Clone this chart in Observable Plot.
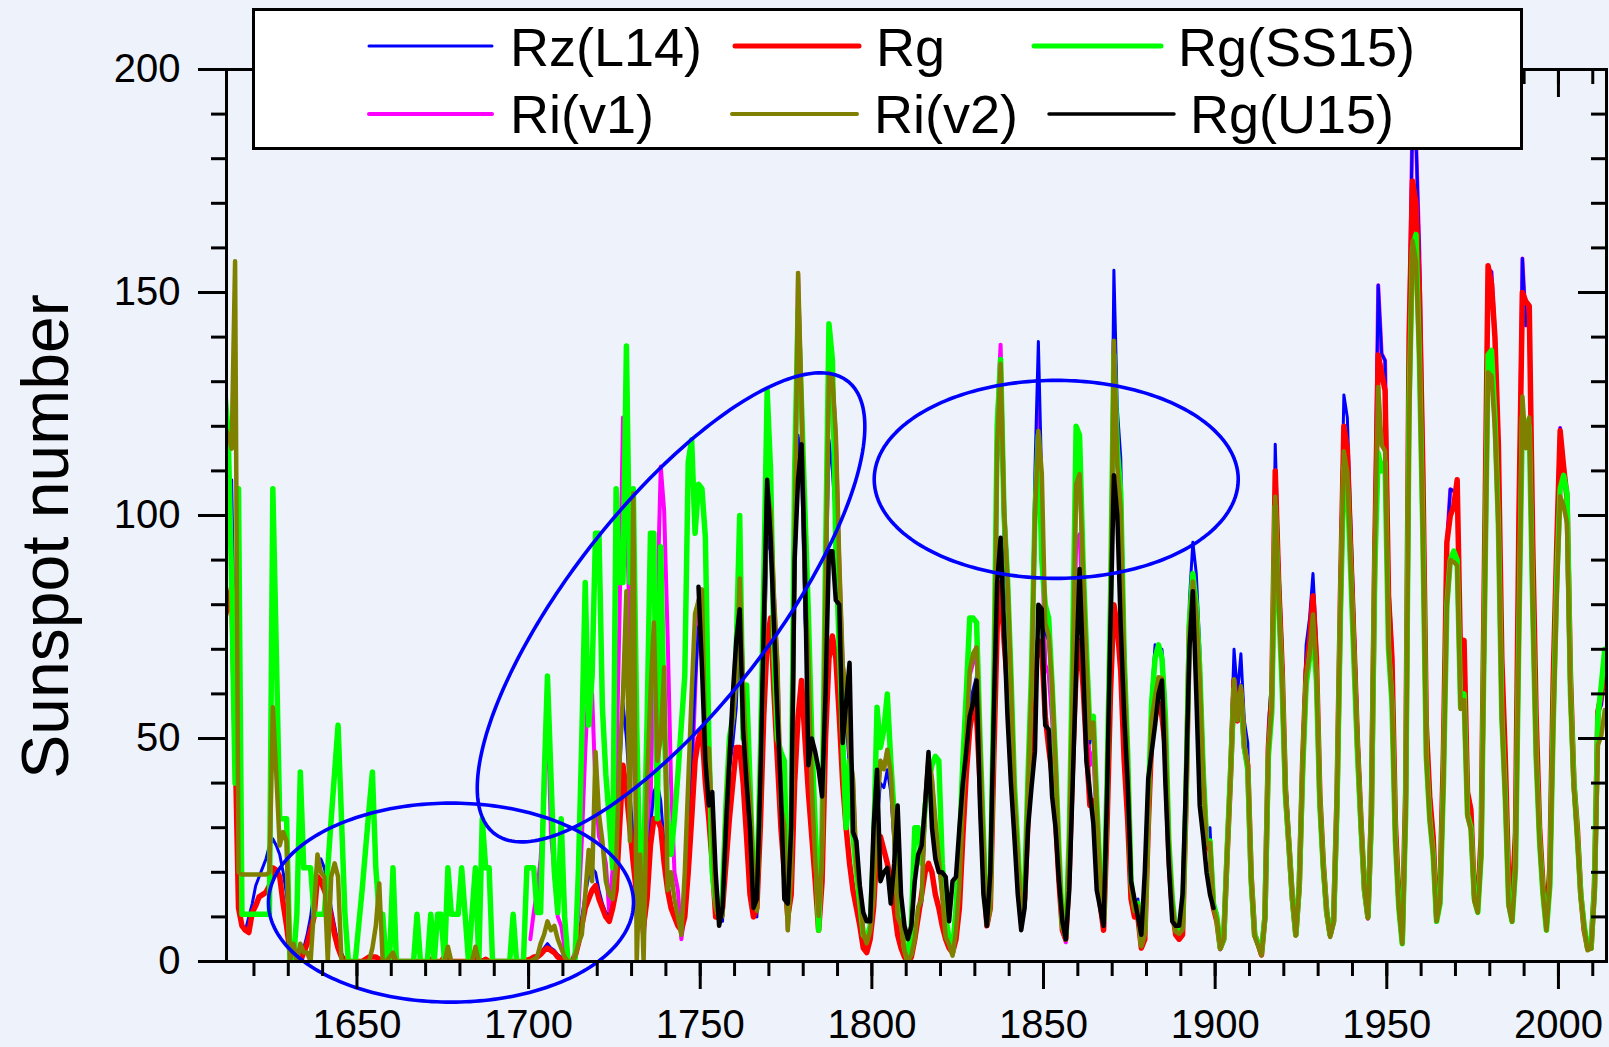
<!DOCTYPE html>
<html><head><meta charset="utf-8">
<script src="https://cdn.jsdelivr.net/npm/d3@7"></script>
<script src="https://cdn.jsdelivr.net/npm/@observablehq/plot@0.6"></script>
<style>
html,body{margin:0;padding:0;background:#eef3fb;}
#chart{position:relative;width:1609px;height:1047px;overflow:hidden;}
</style></head><body><div id="chart"></div>
<script>
// ---------------- data (yearly values) ----------------
const seriesNames = ["Rz(L14)", "Rg", "Rg(SS15)", "Ri(v1)", "Ri(v2)", "Rg(U15)"];

const rzL14Start = 1610;
const rzL14 = [
 100,100,106,108,60,15,8,7,10,13,
 17,19,21,23,26,27.5,26,24,20,15,
 5,1,0,1,3,6,10,16,22,23,
 21,17,12,8,4,2,0,0,0,0,
 0,0,0,0,0,0,0,0,0,0,
 0,0,0,0,0,0,0,0,0,0,
 0,0,0,0,0,0,0,0,0,0,
 0,0,0,0,0,0,0,0,0,0,
 0,0,0,0,0,0,0,0,0,0,
 0.5,1,1.5,2,3,4,3,2.5,1.5,1,
 0,0,0,1,5,10,15,19,21,20,
 16,13,11,10,13,20,42,58,50,38,
 28,18,11,8,16,30,38,40,36,26,
 18,13,10,8,8,14,30,45,62,75,
 76,44,44,28,11,9,9,30,43,49,
 57,78,56,41,33,19,10,34,64,95,
 92,74,60,32,28,7,18,84,118,112,
 77,62,35,21,9,22,75,117,110,98,
 82,60,54,43,37,19,15,6,4,6,
 13,31,40,39,43,38,26,9,7,2,
 0,1,5,11,13,32,42,37,27,22,
 14,6,4,2,8,15,33,45,58,61,
 64,43,25,8,12,52,110,126,94,78,
 59,33,22,10,14,40,68,110,139,107,
 74,72,60,43,23,7,5,25,61,104,
 106,86,66,49,52,34,18,8,42,82,
 155,124,113,74,50,19,13,14,4,7,
 36,60,71,70,70,58,28,15,8,7,
 8,40,81,94,87,71,46,29,30,13,
 11,3,6,27,47,70,60,69,54,49,
 21,6,4,2,11,53,64,116,90,71,
 42,29,16,6,19,49,71,77,87,72,
 40,24,12,6,10,40,89,127,122,99,
 76,53,34,18,11,37,97,151.6,136.3,134.7,
 83.9,69.4,31.5,13.9,4.4,38.0,141.7,190.2,184.8,159.0,
 112.3,53.9,37.6,27.9,10.2,15.1,47.0,93.8,105.9,105.5,
 104.5,66.6,68.9,38.0,34.5,15.5,12.6,27.5,92.5,155.4,
 154.6,140.4,115.9,66.6,45.9,17.9,13.4,29.4,100.2,157.6,
 142.6,145.7,94.3,54.6,29.9,17.5,8.6,21.5,64.3,93.3,
 119.6,111.0,104.0,63.7,40.4,29.8,15.2,7.5,2.9,3.1,
 16.5,55.7,57.6,64.7
];

const rgStart = 1610;
const rg = [
 77,77,80,84,50,12,8,7,6.5,11,
 12.5,14.5,15,15.5,17,21,20.5,19,13,8,
 2,0,0,0,2,4,7,10,19,18,
 16,13.8,10,6,3,1,0.5,0,0,0,
 0,0,0.5,1,1,1,0.5,0,0,0,
 0.5,0,0,0,0,0,0,0,0,0,
 0,0.5,0,0,0,1,0.5,0,0,0,
 0,0,0,0,1,0.5,0,0.5,0,0,
 0,0,0,0,0,0,0,0,0,0.3,
 0.5,1,1,1.6,2.5,3,2.5,2,1,0.5,
 0,0,0,1,4,8,12,14,16,17,
 14,12,10,9,12,16,30,44,38,30,
 22,15,10,8,14,26,32,32,30,22,
 16,12,10,8,7,10,20,32,45,50,
 52,40,32,22,10,10,12,22,32,40,
 48,48,40,28,15,10,12,30,55,72,
 77,60,45,30,20,10,15,40,55,63,
 50,38,28,18,7,18,50,68,73,68,
 55,40,30,22,16,12,8,3,2,5,
 12,26,28,25,22,18,12,6,3,1,
 0,1,5,10,15,20,22,20,15,12,
 8,5,3,2,5,12,28,42,52,57,
 55,40,22,8,12,45,75,85,72,62,
 48,32,20,9,14,32,50,65,72,70,
 55,48,42,32,18,7,5,20,45,65,
 72,62,48,35,36,25,13,7,30,60,
 80,75,65,45,32,14,10,10,3,5,
 30,50,57,58,55,48,24,12,6,5,
 6,35,75,85,78,62,40,26,25,12,
 9,3,5,24,42,63,54,61,48,44,
 19,6,4,1.5,10,48,60,110,85,66,
 38,26,14,6,17,45,65,72,82,68,
 37,22,11,6,9,37,82,120,115,92,
 70,48,31,16,10,33,92,136,132,128,
 82,68,31,14,5,38,140,175,170,150,
 110,53,37,28,10,15,47,94,100,102,
 108,67,72,38,34,15,13,28,92,156,
 152,140,116,68,46,18,13,29,100,150,
 148,147,94,55,30,17,9,21,64,93,
 119,111,104,64,40,30,15,7,3,3,
 17,56,60,65
];

const rgSS15Start = 1610;
const rgSS15 = [
 128,128,118,85,40,106,10.6,10.6,10.6,10.6,
 10.6,10.6,10.6,10.6,10.6,106,70,32,32,32,
 0,0,10.6,42.5,21,21,21,10.6,10.6,10.6,
 10.6,21,32,42.5,53,32,10.6,0,0,0,
 8,16,25,34,42.5,21,10.6,10.6,0,0,
 21,0,0,0,0,0,0,10.6,0,0,
 0,10.6,0,10.6,10.6,0,21,10.6,10.6,10.6,
 21,10.6,0,10.6,21,0,32,21,21,0,
 0,0,0,0,0,10.6,0,0,0,21,
 21,21,11,11,40,64,42,20,11,32,
 10,0,0,0,20,50,85,53,64,96,
 96,57,42,32,21,106,85,85,138,85,
 106,53,16,21,53,96,96,32,93,53,
 32,24,32,42,53,64,112,117,96,107,
 106,95,50,20,13,10,15,35,50,55,
 70,100,50,62,40,18,16,45,85,128,
 110,68,50,47,45,10,30,110,146,125,
 101,78,50,30,7,30,90,143,135,93,
 70,50,30,45,28,20,13,6,5,8,
 25,57,48,52,60,45,33,15,10,3,
 0,8,30,30,22,35,40,44,46,45,
 22,10,5,2,12,25,45,60,77,77,
 76,50,28,9,15,60,120,135,100,86,
 65,40,26,11,16,42,65,100,118,90,
 80,77,62,45,25,8,6,28,70,120,
 118,90,70,52,55,36,19,9,40,80,
 136,115,105,68,47,18,12,13,4,7,
 35,58,68,71,68,55,27,14,7,7,
 8,37,76,87,80,66,43,27,27,13,
 10,3,5,25,43,61,55,60,48,43,
 18,6,4,2,10,46,56,102,80,62,
 37,26,14,6,17,43,62,68,74,63,
 35,21,11,6,9,35,78,111,107,87,
 66,46,30,16,10,32,88,114,110,112,
 70,58,27,12,4,33,125,160,163,135,
 96,46,32,24,9,13,40,80,90,92,
 90,57,60,33,30,14,11,24,80,136,
 137,122,98,55,37,13,9,21,75,122,
 121,120,80,46,27,15,7,17,54,85,
 106,109,105,60,40,28,15,8,3,3,
 16,55,62,70
];

const riV1Start = 1700;
const riV1 = [
 5,11,16,23,36,58,29,20,10,8,
 3,0,0,2,11,27,47,63,60,39,
 28,26,22,11,21,40,78,122,103,73,
 47,35,11,5,16,34,70,81,111,101,
 73,40,20,16,5,11,22,40,60,80.9,
 83.4,47.7,47.8,30.7,12.2,9.6,10.2,32.4,47.6,54.0,
 62.9,85.9,61.2,45.1,36.4,20.9,11.4,37.8,69.8,106.1,
 100.8,81.6,66.5,34.8,30.6,7.0,19.8,92.5,154.4,125.9,
 84.8,68.1,38.5,22.8,10.2,24.1,82.9,132.0,130.9,118.1,
 89.9,66.6,60.0,46.9,41.0,21.3,16.0,6.4,4.1,6.8,
 14.5,34.0,45.0,43.1,47.5,42.2,28.1,10.1,8.1,2.5,
 0.0,1.4,5.0,12.2,13.9,35.4,45.8,41.1,30.1,23.9,
 15.6,6.6,4.0,1.8,8.5,16.6,36.3,49.6,64.2,67.0,
 70.9,47.8,27.5,8.5,13.2,56.9,121.5,138.3,103.2,85.7,
 64.6,36.7,24.2,10.7,15.0,40.1,61.5,98.5,124.7,96.3,
 66.6,64.5,54.1,39.0,20.6,6.7,4.3,22.7,54.8,93.8,
 95.8,77.2,59.1,44.0,47.0,30.5,16.3,7.3,37.6,74.0,
 139.0,111.2,101.6,66.2,44.7,17.0,11.3,12.4,3.4,6.0,
 32.3,54.3,59.7,63.7,63.5,52.2,25.4,13.1,6.8,6.3,
 7.1,35.6,73.0,85.1,78.0,64.0,41.8,26.2,26.7,12.1,
 9.5,2.7,5.0,24.4,42.0,63.5,53.8,62.0,48.5,43.9,
 18.6,5.7,3.6,1.4,9.6,47.4,57.1,103.9,80.6,63.6,
 37.6,26.1,14.2,5.8,16.7,44.3,63.9,69.0,77.8,64.9,
 35.7,21.2,11.1,5.7,8.7,36.1,79.7,114.4,109.6,88.8,
 67.8,47.5,30.6,16.3,9.6,33.2,92.6,151.6,136.3,134.7,
 83.9,69.4,31.5,13.9,4.4,38.0,141.7,190.2,184.8,159.0,
 112.3,53.9,37.6,27.9,10.2,15.1,47.0,93.8,105.9,105.5,
 104.5,66.6,68.9,38.0,34.5,15.5,12.6,27.5,92.5,155.4,
 154.6,140.4,115.9,66.6,45.9,17.9,13.4,29.4,100.2,157.6,
 142.6,145.7,94.3,54.6,29.9,17.5,8.6,21.5,64.3,93.3,
 119.6,111.0,104.0,63.7,40.4,29.8,15.2,7.5,2.9,3.1,
 16.5,55.7,57.6,64.7
];

const riV2Start = 1610;
const riV2 = [
 120,120,118,115,157,20,19.5,19.5,19.5,19.5,
 19.5,19.5,19.5,19.5,20,57,42,26,29,27,
 0,4,0,4,2,2,0,12,24,20,
 19,0,19,22,19,0,0,0,0,0,
 0,0,0,0,3,8,17.5,0,0,1,
 2,0,0,0,0,0,0,0,0,0,
 0,0,0,0,0,0,3.3,0,0,0,
 0,0,0,0,3.3,0,0,0,0,0,
 0,0,0,0,0,0,0,0,0,0,
 0,0.5,1,4,6,9,7,8,5,3,
 1,0,0,1,4,6,15,25,18,47,
 33,27,18,15,14,22,45,60,83,27,
 105,0,24,0,40,60,76,45,50,66,
 16,20,14,10,6,20,40,60,78,80.9,
 83.4,47.7,47.8,30.7,12.2,9.6,10.2,32.4,47.6,54.0,
 62.9,85.9,61.2,45.1,36.4,20.9,11.4,37.8,69.8,106.1,
 100.8,81.6,66.5,34.8,30.6,7.0,19.8,92.5,154.4,125.9,
 84.8,68.1,38.5,22.8,10.2,24.1,82.9,132.0,130.9,118.1,
 89.9,66.6,60.0,46.9,41.0,21.3,16.0,6.4,4.1,6.8,
 14.5,34.0,45.0,43.1,47.5,42.2,28.1,10.1,8.1,2.5,
 0.0,1.4,5.0,12.2,13.9,35.4,45.8,41.0,31.7,23.1,
 14.5,5.5,3.8,1.3,6.8,16.9,35.9,49.8,65.1,69.1,
 70.4,48.5,26.6,8.0,11.7,51.5,115.6,134.0,101.2,85.8,
 63.3,38.0,24.2,10.9,15.1,39.5,61.6,99.8,119.0,109.5,
 75.8,73.2,61.6,44.5,23.4,7.6,4.9,26.0,62.6,107.0,
 109.3,88.0,67.3,50.1,53.6,34.7,18.4,8.3,37.7,74.2,
 139.2,111.2,101.5,66.1,44.7,17.0,11.3,12.4,3.4,6.0,
 32.2,54.3,59.4,63.7,63.5,51.8,25.4,13.1,6.7,6.2,
 7.1,35.7,73.0,85.2,78.0,64.0,41.6,26.3,26.6,12.1,
 9.4,2.8,5.1,24.5,42.1,63.3,54.1,61.7,48.5,43.9,
 18.5,5.7,3.6,1.4,9.7,47.4,57.0,104.2,80.8,63.4,
 37.6,26.1,14.2,5.8,16.7,44.4,63.9,68.8,77.8,64.9,
 35.6,21.1,11.2,5.5,8.8,36.1,79.7,114.4,109.6,88.8,
 67.8,47.5,30.5,16.3,9.7,33.2,92.6,128.8,115.8,114.4,
 71.3,59.0,27.0,12.1,4.0,32.5,120.4,161.6,157.0,135.1,
 95.4,45.8,32.0,23.9,9.0,13.2,40.1,79.7,90.0,89.6,
 88.8,56.6,58.6,32.5,29.5,13.5,11.0,23.6,78.6,132.1,
 131.3,119.3,97.4,54.6,36.3,12.4,8.9,20.3,73.8,126.7,
 115.1,122.0,79.8,45.7,26.9,15.1,7.0,17.3,53.0,81.8,
 104.3,102.2,98.2,59.6,39.2,27.5,14.8,7.6,2.5,2.9,
 14.9,48.5,50.7,56.4
];

const rgU15Start = 1749;
const rgU15 = [
 84,
 66,45,35,38,20,8,12,30,45,60,
 72,79,52,40,30,12,14,40,75,108,
 95,75,55,38,14,13,30,90,108,116,
 88,44,50,47,43,37,60,92,92,81,
 80,49,58,67,29,27,17,11,9,9,
 30,43,18,20,21,13,22,35,15,8,
 5,8,18,24,26,35,47,30,23,20,
 20,19,9,18,19,30,40,47,55,58,
 63,35,15,8,20,55,85,95,75,55,
 40,28,15,7,12,30,39,47,80,79,
 53,52,37,30,18,9,5,16,40,65,
 88,67,45,38,31,16,12,8,37,75,
 109,100,75,55,40,18,14,10,6,20,
 41,47,53,60,63,40,21.5,9,8,8,
 15,40,70,83,60,35,28,20,15,12
];

const xTicksMajor = [1650, 1700, 1750, 1800, 1850, 1900, 1950, 2000];
const xTicksMinor = d3.range(1620, 2011, 10);
const yTicksMajor = [0, 50, 100, 150, 200];
const yTicksMinor = d3.range(0, 201, 10);

// ---------------- layout & styles ----------------
const W = 1609, H = 1047;
const mL = 226, mR = 3, mT = 69, mB = 86;
const innerW = W - mL - mR, innerH = H - mT - mB;
const xDomain = [1612, 2014], yDomain = [0, 200];
const FONT = "'Liberation Sans', Arial, Helvetica, sans-serif";

const styleOf = {
  "Rz(L14)": {color: "#0000ff", width: 3, legendWidth: 3},
  "Rg": {color: "#ff0000", width: 5.5, legendWidth: 5},
  "Rg(SS15)": {color: "#00ff00", width: 5.5, legendWidth: 5},
  "Ri(v1)": {color: "#ff00ff", width: 4, legendWidth: 4},
  "Ri(v2)": {color: "#808000", width: 4.5, legendWidth: 4},
  "Rg(U15)": {color: "#000000", width: 4.5, legendWidth: 3.5}
};

function rows(name, start, vals) {
  return vals.map((v, i) => ({series: name, year: start + i, value: v}));
}
const table = {
  "Rz(L14)": rows("Rz(L14)", rzL14Start, rzL14),
  "Rg": rows("Rg", rgStart, rg),
  "Rg(SS15)": rows("Rg(SS15)", rgSS15Start, rgSS15),
  "Ri(v1)": rows("Ri(v1)", riV1Start, riV1),
  "Ri(v2)": rows("Ri(v2)", riV2Start, riV2),
  "Rg(U15)": rows("Rg(U15)", rgU15Start, rgU15)
};
const drawOrder = ["Ri(v1)", "Rz(L14)", "Rg", "Rg(SS15)", "Ri(v2)", "Rg(U15)"];

// annotation ellipses (centre in data units, semi-axes in pixels, tilt in degrees)
const annotationEllipses = [
  {id: 1, cx: 1677.4, cy: 13.2, a: 182.5, b: 99.5, angle: 0},
  {id: 2, cx: 1741.5, cy: 79.4, a: 287, b: 101, angle: 52},
  {id: 3, cx: 1853.7, cy: 108.1, a: 182, b: 99, angle: 0}
];
const kx = innerW / (xDomain[1] - xDomain[0]);
const ky = innerH / (yDomain[1] - yDomain[0]);
const ellipsePts = annotationEllipses.flatMap(e => {
  const th = e.angle * Math.PI / 180;
  return d3.range(0, 240).map(i => {
    const t = 2 * Math.PI * i / 240;
    const dx = e.a * Math.cos(t) * Math.cos(th) - e.b * Math.sin(t) * Math.sin(th);
    const dy = e.a * Math.cos(t) * Math.sin(th) + e.b * Math.sin(t) * Math.cos(th);
    return {id: e.id, x: e.cx + dx / kx, y: e.cy + dy / ky};
  });
});

const dataMarks = drawOrder.map(name => Plot.line(table[name], {
  x: d => d.year + 0.5, y: "value",
  stroke: styleOf[name].color, strokeWidth: styleOf[name].width,
  strokeLinejoin: "round", strokeLinecap: "round", clip: true
}));

const chart = Plot.plot({
  width: W, height: H,
  marginLeft: mL, marginRight: mR, marginTop: mT, marginBottom: mB,
  style: {background: "#eef3fb", fontFamily: FONT, color: "black", overflow: "visible"},
  x: {domain: xDomain},
  y: {domain: yDomain},
  marks: [
    ...dataMarks,
    Plot.line(ellipsePts, {x: "x", y: "y", z: "id", stroke: "#0000ff", strokeWidth: 3.6, curve: "linear-closed"}),
    Plot.frame({stroke: "black", strokeWidth: 3}),
    // bottom axis (outward ticks)
    Plot.axisX({anchor: "bottom", ticks: xTicksMajor, tickSize: 28, tickPadding: 20, fontSize: 40,
      tickFormat: d => String(d), strokeWidth: 3, label: null}),
    Plot.axisX({anchor: "bottom", ticks: xTicksMinor, tickSize: 15, tickFormat: () => "", strokeWidth: 3, label: null}),
    // left axis (outward ticks)
    Plot.axisY({anchor: "left", ticks: yTicksMajor, tickSize: 28, tickPadding: 18, fontSize: 40,
      tickFormat: d => String(d), strokeWidth: 3, label: null}),
    Plot.axisY({anchor: "left", ticks: yTicksMinor, tickSize: 15, tickFormat: () => "", strokeWidth: 3, label: null}),
    // top & right inward ticks
    Plot.tickX(xTicksMajor, {x: d => d, insetBottom: innerH - 28, stroke: "black", strokeWidth: 3}),
    Plot.tickX(xTicksMinor, {x: d => d, insetBottom: innerH - 15, stroke: "black", strokeWidth: 3}),
    Plot.tickY(yTicksMajor, {y: d => d, insetLeft: innerW - 28, stroke: "black", strokeWidth: 3}),
    Plot.tickY(yTicksMinor, {y: d => d, insetLeft: innerW - 15, stroke: "black", strokeWidth: 3}),
    // y title
    Plot.text(["Sunspot number"], {frameAnchor: "left", textAnchor: "middle", lineAnchor: "middle",
      dx: -180, dy: 21, rotate: -90, fontSize: 66, fill: "black", text: d => d})
  ]
});

// ---------------- legend (boxed, two rows of three) ----------------
const legendItems = [
  {name: "Rz(L14)", row: 0, x1: 369, x2: 492, tx: 510},
  {name: "Rg", row: 0, x1: 735, x2: 859, tx: 876},
  {name: "Rg(SS15)", row: 0, x1: 1034, x2: 1161, tx: 1178},
  {name: "Ri(v1)", row: 1, x1: 369, x2: 492, tx: 510},
  {name: "Ri(v2)", row: 1, x1: 732, x2: 857, tx: 874},
  {name: "Rg(U15)", row: 1, x1: 1049, x2: 1174, tx: 1190}
];
const svg = d3.select(chart);
const lg = svg.append("g").attr("font-family", FONT).attr("font-size", 54).attr("text-anchor", "start");
lg.append("rect").attr("x", 253.5).attr("y", 9.5).attr("width", 1268).attr("height", 139)
  .attr("fill", "white").attr("stroke", "black").attr("stroke-width", 3);
const rowLineY = [46, 114], rowBase = [66, 133];
for (const it of legendItems) {
  const s = styleOf[it.name];
  lg.append("line").attr("x1", it.x1).attr("x2", it.x2)
    .attr("y1", rowLineY[it.row]).attr("y2", rowLineY[it.row])
    .attr("stroke", s.color).attr("stroke-width", s.legendWidth).attr("stroke-linecap", "round");
  lg.append("text").attr("x", it.tx).attr("y", rowBase[it.row]).attr("fill", "black")
    .attr("text-anchor", "start").text(it.name);
}

document.getElementById("chart").appendChild(chart);
</script></body></html>
